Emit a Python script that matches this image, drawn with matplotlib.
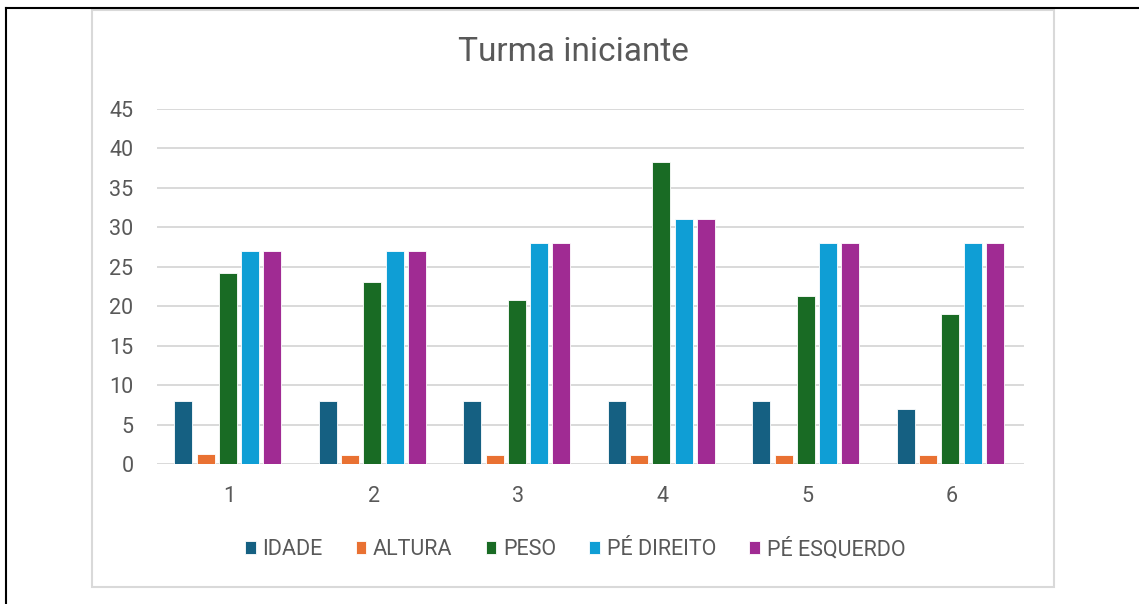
import matplotlib.pyplot as plt
from matplotlib.patches import Rectangle
from matplotlib.lines import Line2D
import numpy as np

plt.rcParams['font.family'] = ['Roboto', 'DejaVu Sans']

# data
groups = ['1', '2', '3', '4', '5', '6']
idade = [8, 8, 8, 8, 8, 7]
altura = [1.23, 1.1, 1.1, 1.2, 1.1, 1.1]
peso = [24.2, 23.1, 20.8, 38.3, 21.3, 19.0]
pe_direito = [27, 27, 28, 31, 28, 28]
pe_esquerdo = [27, 27, 28, 31, 28, 28]

series = [
    ('IDADE', idade, '#156082'),
    ('ALTURA', altura, '#E97132'),
    ('PESO', peso, '#196B24'),
    ('PÉ DIREITO', pe_direito, '#0F9ED5'),
    ('PÉ ESQUERDO', pe_esquerdo, '#A02B93'),
]

W, H = 1139, 604
fig = plt.figure(figsize=(W / 100, H / 100), dpi=100)
ax = fig.add_axes([157 / W, 1 - 464 / H, (1024 - 157) / W, (464 - 109) / H])

grey = '#595959'
x = np.arange(len(groups))
step = 0.154
width = 0.124
for i, (name, vals, col) in enumerate(series):
    ax.bar(x + (i - 2) * step - 0.01, vals, width, color=col, label=name,
           edgecolor='white', linewidth=0.6, zorder=3)

ax.set_xlim(-0.5, len(groups) - 0.5)
ax.set_ylim(0, 45)
ax.set_yticks(range(0, 50, 5))
ax.set_xticks(x)
ax.set_xticklabels(groups)
ax.yaxis.grid(True, color='#d9d9d9', linewidth=1.4, zorder=0)
for s in ax.spines.values():
    s.set_visible(False)
ax.tick_params(length=0, labelsize=15.5, labelcolor=grey)
ax.tick_params(axis='y', pad=17)
ax.tick_params(axis='x', pad=16)

fig.text(573 / W, 1 - 52 / H, 'Turma iniciante', ha='center', va='center',
         fontsize=24, color=grey)

fig.legend(loc='center', bbox_to_anchor=(575 / W, 1 - 549 / H), ncol=5,
           frameon=False, fontsize=15.5, labelcolor=grey,
           handlelength=0.5, handleheight=0.5, handletextpad=0.3,
           columnspacing=1.55)

# chart frame and outer border
fig.patches.append(Rectangle((92 / W, 1 - 587 / H), (1054 - 92) / W, (587 - 10) / H,
                             transform=fig.transFigure, fill=False,
                             edgecolor='#d9d9d9', linewidth=1.5))
fig.lines.append(Line2D([6 / W, 1], [1 - 8 / H, 1 - 8 / H], transform=fig.transFigure,
                        color='black', linewidth=1.5))
fig.lines.append(Line2D([6 / W, 6 / W], [0, 1 - 8 / H], transform=fig.transFigure,
                        color='black', linewidth=1.5))

fig.savefig('out.png', dpi=100)
